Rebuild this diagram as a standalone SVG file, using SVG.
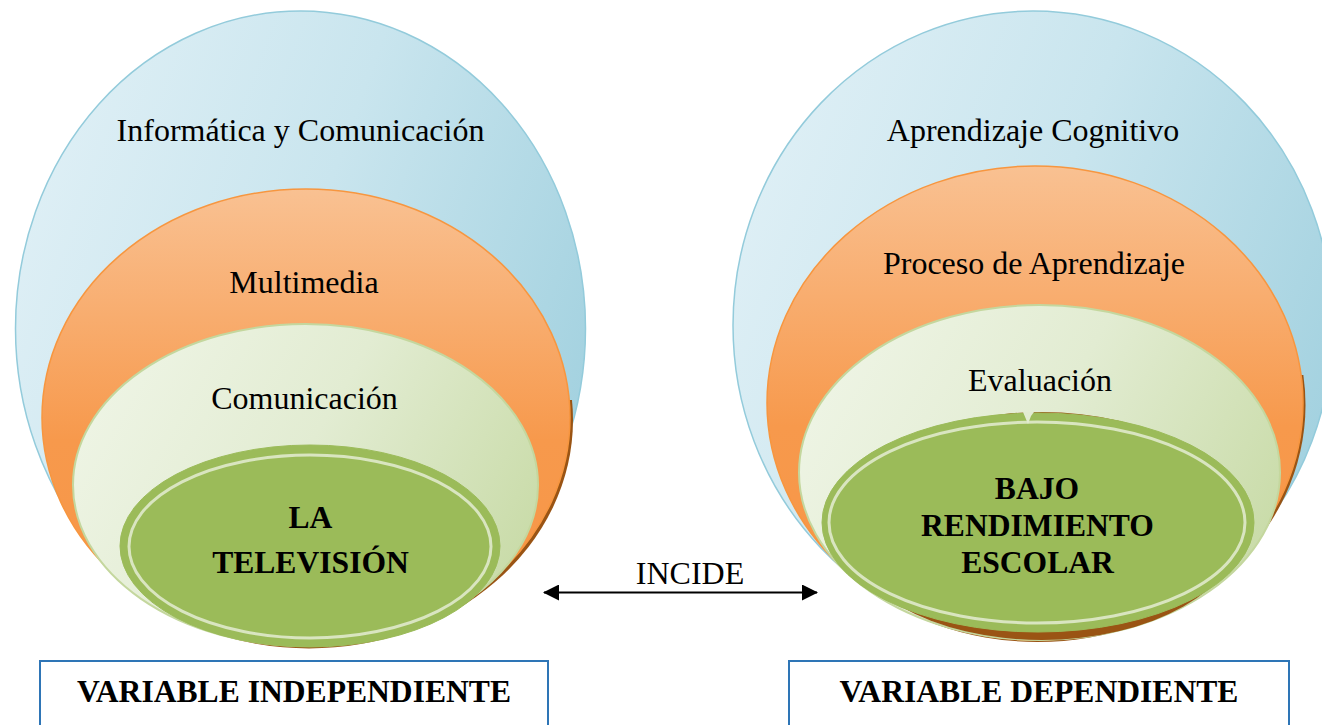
<svg xmlns="http://www.w3.org/2000/svg" width="1322" height="725" viewBox="0 0 1322 725">
<defs>
<linearGradient id="gBlue" x1="0" y1="0.2" x2="1" y2="0.6">
<stop offset="0" stop-color="#e0f0f6"/>
<stop offset="0.5" stop-color="#c9e5ee"/>
<stop offset="1" stop-color="#a4d2e0"/>
</linearGradient>
<linearGradient id="gOrange" x1="0" y1="0" x2="0" y2="1">
<stop offset="0" stop-color="#f9c192"/>
<stop offset="0.55" stop-color="#f7994c"/>
<stop offset="1" stop-color="#f79646"/>
</linearGradient>
<linearGradient id="gLight" x1="0" y1="0.2" x2="1" y2="0.6">
<stop offset="0" stop-color="#eff5e6"/>
<stop offset="0.5" stop-color="#e2ecd2"/>
<stop offset="1" stop-color="#cadcaa"/>
</linearGradient>
<clipPath id="lowL"><rect x="0" y="400" width="661" height="325"/></clipPath>
<clipPath id="lowR"><rect x="661" y="375" width="661" height="350"/></clipPath>
<marker id="ah" viewBox="0 0 16 16" refX="15" refY="8" markerWidth="16" markerHeight="16" markerUnits="userSpaceOnUse" orient="auto-start-reverse">
<path d="M0,0 L16,8 L0,16 Z" fill="#000"/>
</marker>
</defs>
<style>
.blue{fill:url(#gBlue);stroke:#93cbdb;stroke-width:1.5}
.orange{fill:url(#gOrange);stroke:#f7963f;stroke-width:1.5}
.light{fill:url(#gLight);stroke:#c4d79e;stroke-width:2}
.dark{fill:#9bbb59;stroke:#9bbb59;stroke-width:1}
.ring{fill:none;stroke:#d9e5c0;stroke-width:3}
.shadow{fill:#9a5414}
.t{font-family:"Liberation Serif","Times New Roman",serif;font-size:32px;fill:#000;text-anchor:middle}
.b{font-family:"Liberation Serif","Times New Roman",serif;font-size:31.6px;font-weight:bold;fill:#000;text-anchor:middle}
.box{fill:#fff;stroke:#2e75b6;stroke-width:2}
</style>

<g id="left-informatica">
<ellipse class="blue" cx="300.5" cy="328.5" rx="285" ry="317.5"/>
<text class="t" x="300.5" y="141">Informática y Comunicación</text>
</g>
<g id="left-multimedia">
<ellipse class="shadow" cx="309" cy="420" rx="264" ry="228.5" clip-path="url(#lowL)"/>
<ellipse class="orange" cx="306" cy="417.5" rx="264" ry="228.5"/>
<text class="t" x="304" y="293">Multimedia</text>
</g>
<g id="left-comunicacion">
<ellipse class="light" cx="305.5" cy="485" rx="232.5" ry="161"/>
<text class="t" x="304.5" y="409">Comunicación</text>
</g>
<g id="left-television">
<ellipse class="dark" cx="310" cy="546" rx="190" ry="101"/>
<ellipse class="ring" cx="310" cy="546.5" rx="181" ry="91.5"/>
<text class="b" x="310.5" y="528">LA</text>
<text class="b" x="310.5" y="573">TELEVISIÓN</text>
</g>

<g id="right-cognitivo">
<ellipse class="blue" cx="1033" cy="325.5" rx="300" ry="314.5"/>
<text class="t" x="1033" y="141">Aprendizaje Cognitivo</text>
</g>
<g id="right-proceso">
<ellipse class="shadow" cx="1037.5" cy="405" rx="268" ry="237" clip-path="url(#lowR)"/>
<ellipse class="orange" cx="1035" cy="403" rx="268" ry="237"/>
<text class="t" x="1034" y="274">Proceso de Aprendizaje</text>
</g>
<g id="right-evaluacion">
<ellipse class="light" cx="1039.5" cy="472.5" rx="240.5" ry="167.5"/>
<text class="t" x="1040" y="391">Evaluación</text>
</g>
<g id="right-bajo">
<ellipse class="shadow" cx="1042" cy="526" rx="200" ry="114"/>
<ellipse class="dark" cx="1038" cy="522.5" rx="216" ry="109.5"/>
<ellipse class="ring" cx="1037" cy="522.5" rx="208" ry="100.5"/>
<path d="M1023,412 L1028,424 L1031,416 L1034,412 Z" fill="#e2ecd2"/>
<text class="b" x="1037" y="499">BAJO</text>
<text class="b" x="1037.5" y="536">RENDIMIENTO</text>
<text class="b" x="1037.5" y="573">ESCOLAR</text>
</g>

<g id="connectors">
<line x1="544" y1="592.5" x2="817" y2="592.5" stroke="#000" stroke-width="2.2" marker-start="url(#ah)" marker-end="url(#ah)"/>
<text class="t" x="690" y="584">INCIDE</text>
</g>

<g id="box-independiente">
<rect class="box" x="40" y="661" width="508" height="80"/>
<text class="b" x="294" y="702">VARIABLE INDEPENDIENTE</text>
</g>
<g id="box-dependiente">
<rect class="box" x="789" y="661" width="500" height="80"/>
<text class="b" x="1039" y="702">VARIABLE DEPENDIENTE</text>
</g>
</svg>
